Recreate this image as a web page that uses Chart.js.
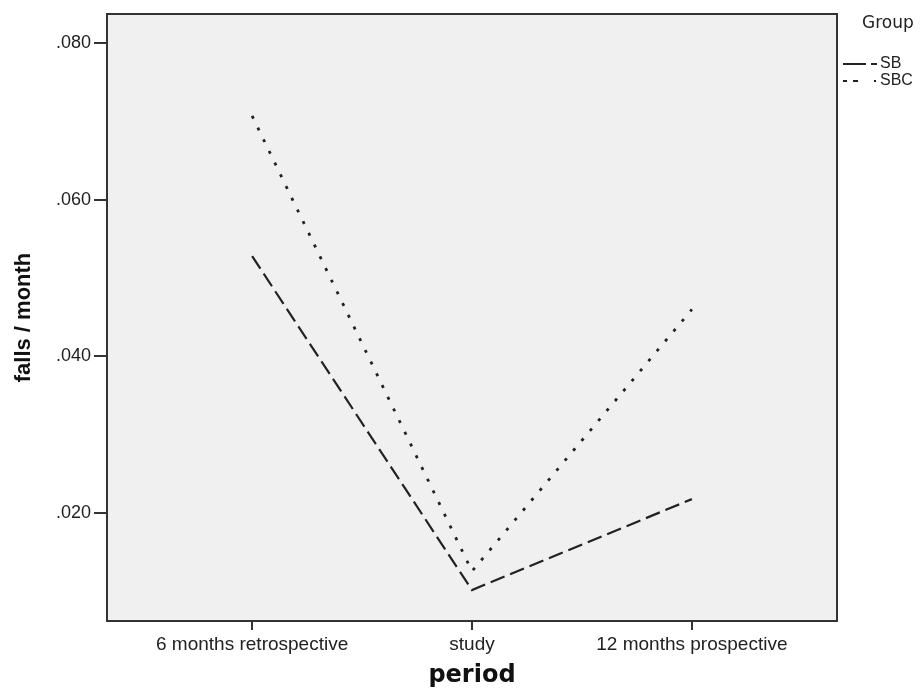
<!DOCTYPE html>
<html>
<head>
<meta charset="utf-8">
<script src="https://cdn.jsdelivr.net/npm/chart.js@4"></script>
<style>
  html, body { margin: 0; padding: 0; background: #fff; }
  #wrap { width: 922px; height: 688px; }
</style>
</head>
<body>
<div id="wrap"><canvas id="myChart" width="922" height="688"></canvas></div>
<script>
const periods = ["6 months retrospective", "study", "12 months prospective"];
const sbValues = [0.0528, 0.0102, 0.0218];
const sbcValues = [0.0707, 0.0126, 0.046];
const yTicks = [0.02, 0.04, 0.06, 0.08];

const toPoints = (vals) => vals.map((v, i) => ({ x: i, y: v }));

// grey plot box, frame and the "Group" legend
const frame = {
  id: "frame",
  beforeDraw(chart) {
    const { ctx, chartArea: a } = chart;
    ctx.save();
    ctx.fillStyle = "#f0f0f0";
    ctx.fillRect(a.left, a.top, a.right - a.left, a.bottom - a.top);
    ctx.restore();
  },
  afterDraw(chart) {
    const { ctx, chartArea: a } = chart;
    ctx.save();
    ctx.strokeStyle = "#333";
    ctx.lineWidth = 2;
    ctx.strokeRect(a.left, a.top, a.right - a.left, a.bottom - a.top);

    ctx.fillStyle = "#222";
    ctx.font = "17px 'DejaVu Sans'";
    ctx.textBaseline = "alphabetic";
    ctx.fillText("Group", 862, 28);

    ctx.strokeStyle = "#222";
    ctx.lineWidth = 2;
    ctx.setLineDash([23, 5, 6, 100]);
    ctx.beginPath(); ctx.moveTo(843, 64); ctx.lineTo(880, 64); ctx.stroke();
    ctx.setLineDash([4, 6, 5, 16, 2, 100]);
    ctx.beginPath(); ctx.moveTo(843, 81); ctx.lineTo(880, 81); ctx.stroke();
    ctx.setLineDash([]);

    ctx.font = "16px 'Liberation Sans'";
    ctx.textBaseline = "middle";
    ctx.fillText("SB", 880, 64);
    ctx.fillText("SBC", 880, 81);
    ctx.restore();
  },
};

new Chart("myChart", {
  type: "line",
  data: {
    datasets: [
      {
        label: "SB",
        data: toPoints(sbValues),
        borderColor: "#222",
        borderWidth: 2.2,
        borderDash: [15, 6],
        pointRadius: 0,
        tension: 0,
        fill: false,
      },
      {
        label: "SBC",
        data: toPoints(sbcValues),
        borderColor: "#222",
        borderWidth: 2.8,
        borderDash: [3, 10],
        pointRadius: 0,
        tension: 0,
        fill: false,
      },
    ],
  },
  options: {
    responsive: false,
    animation: false,
    layout: { padding: { left: 0, right: 85, top: 14, bottom: 0 } },
    plugins: {
      legend: { display: false },
      tooltip: { enabled: false },
    },
    scales: {
      x: {
        type: "linear",
        min: -0.66,
        max: 2.66,
        afterBuildTicks: (s) => { s.ticks = periods.map((p, i) => ({ value: i })); },
        afterFit: (s) => { s.height = 67; },
        border: { display: false },
        grid: { drawOnChartArea: false, tickLength: 9, color: "#333", lineWidth: 2 },
        ticks: {
          padding: 3,
          color: "#222",
          font: { family: "'Liberation Sans'", size: 19 },
          callback: (v) => periods[v],
        },
        title: {
          display: true,
          text: "period",
          color: "#111",
          padding: { top: 0, bottom: 0 },
          font: { family: "'DejaVu Sans'", size: 24, weight: "bold", lineHeight: 1 },
        },
      },
      y: {
        min: 0.00625,
        max: 0.0837,
        afterBuildTicks: (s) => { s.ticks = yTicks.map((v) => ({ value: v })); },
        afterFit: (s) => { s.width = 107; },
        border: { display: false },
        grid: { drawOnChartArea: false, tickLength: 13, color: "#333", lineWidth: 2 },
        ticks: {
          padding: 3,
          color: "#222",
          font: { family: "'Liberation Sans'", size: 18 },
          callback: (v) => v.toFixed(3).replace(/^0/, ""),
        },
        title: {
          display: true,
          text: "falls / month",
          color: "#111",
          padding: { top: 11, bottom: 0 },
          font: { family: "'Liberation Sans'", size: 22, weight: "bold" },
        },
      },
    },
  },
  plugins: [frame],
});
</script>
</body>
</html>
